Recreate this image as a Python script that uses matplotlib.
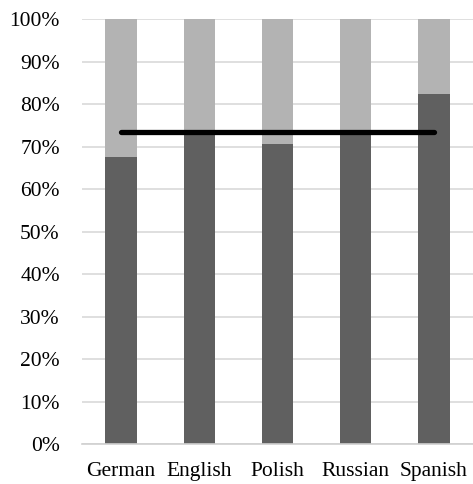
import matplotlib
matplotlib.use('Agg')
import matplotlib.pyplot as plt
import numpy as np

# data
languages = ['German', 'English', 'Polish', 'Russian', 'Spanish']
share_dark = [67.5, 73.6, 70.7, 73.8, 82.3]
share_light = [100 - v for v in share_dark]
mean_line = [73.3] * len(languages)

plt.rcParams['font.family'] = ['Liberation Serif', 'DejaVu Serif']

fig = plt.figure(figsize=(4.73, 4.84), dpi=100)
ax = fig.add_axes([0.1734, 0.0826, 0.8266, 0.8781])

x = np.arange(len(languages))
ax.bar(x, share_dark, width=0.4, color='#606060', zorder=2)
ax.bar(x, share_light, width=0.4, bottom=share_dark, color='#b3b3b3', zorder=2)
ax.plot(x, mean_line, color='black', linewidth=3.8, solid_capstyle='round', zorder=3)

ax.set_xlim(-0.5, len(languages) - 0.5)
ax.set_ylim(0, 100)
ax.set_yticks(np.arange(0, 101, 10))
ax.set_yticklabels(['{}%'.format(v) for v in range(0, 101, 10)])
ax.set_xticks(x)
ax.set_xticklabels(languages)

ax.yaxis.grid(True, color='#d9d9d9', linewidth=1.2, zorder=0)
ax.set_axisbelow(True)
for s in ['top', 'right', 'left']:
    ax.spines[s].set_visible(False)
ax.spines['bottom'].set_color('#d0d0d0')
ax.spines['bottom'].set_linewidth(1.2)
ax.tick_params(axis='both', length=0, labelsize=15.5, colors='black')
ax.tick_params(axis='y', pad=16)
ax.tick_params(axis='x', pad=13)

plt.savefig('out.png', dpi=100)
